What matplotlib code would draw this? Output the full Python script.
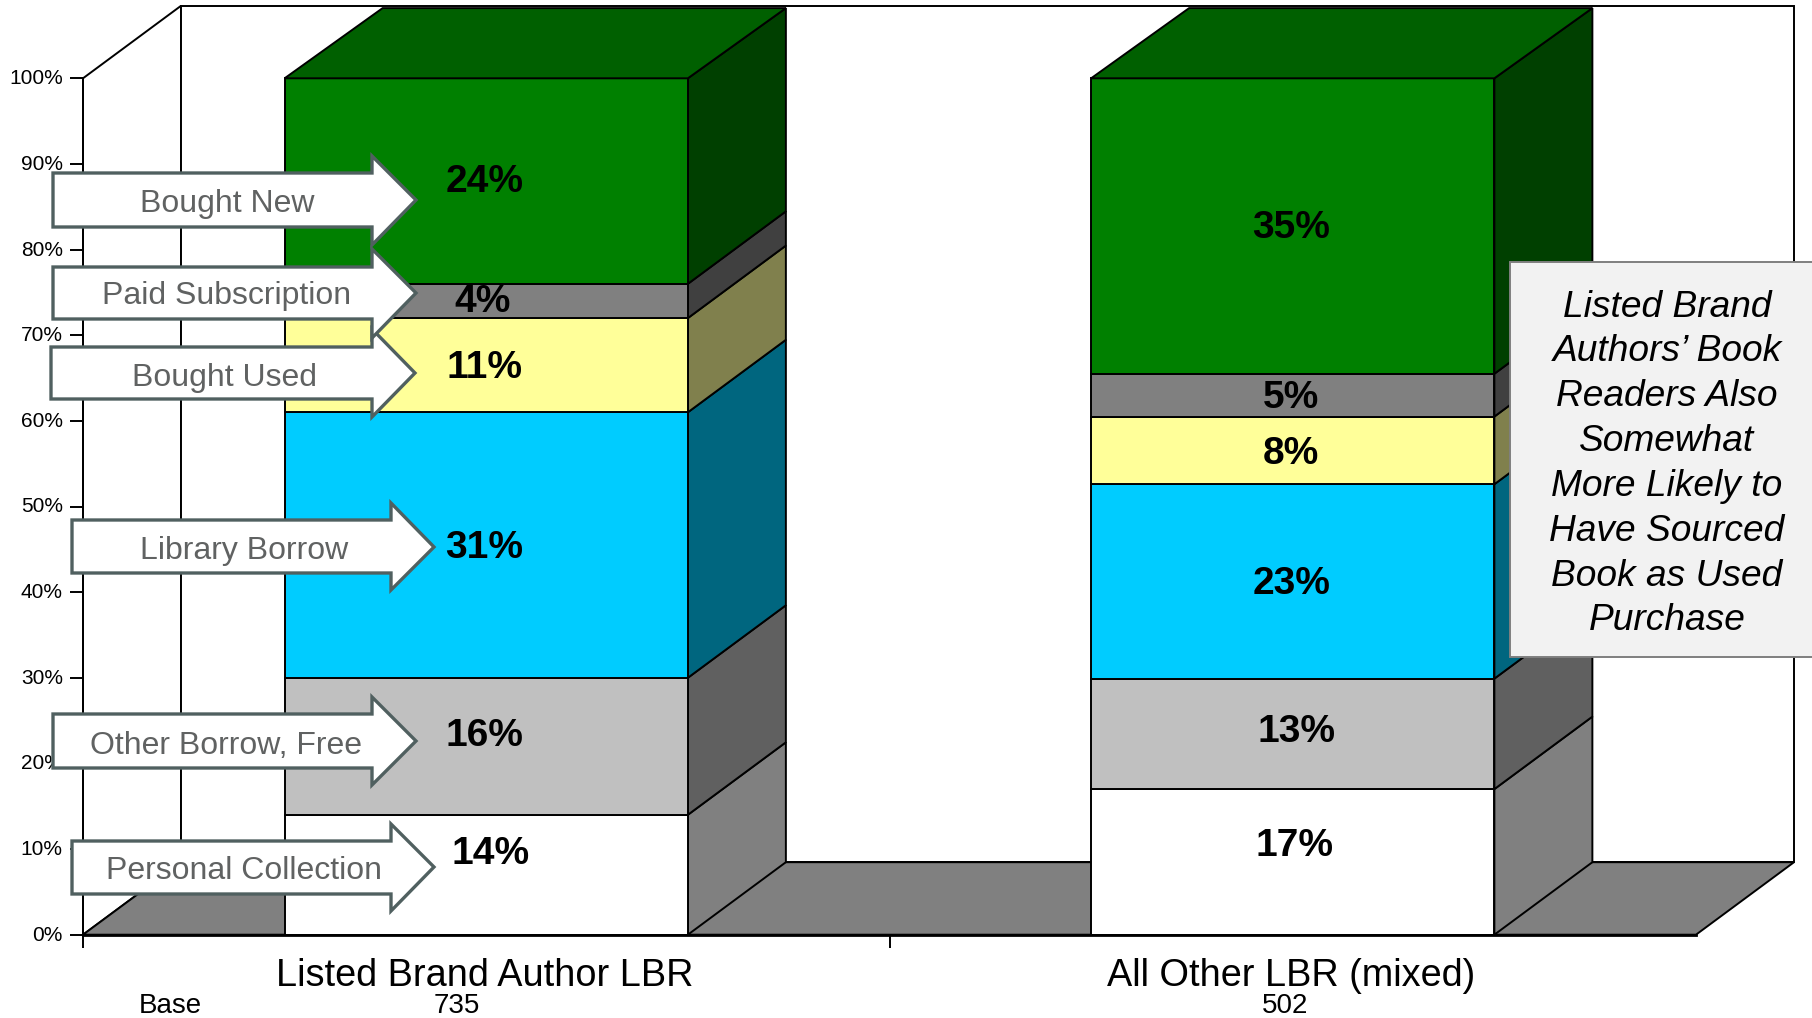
import matplotlib
matplotlib.use("Agg")
import matplotlib.pyplot as plt
from matplotlib.patches import Polygon, Rectangle
from matplotlib.transforms import Affine2D, ScaledTranslation

plt.rcParams['font.family'] = ['Liberation Sans', 'DejaVu Sans']

# ---------- data ----------
categories = ["Listed Brand Author LBR", "All Other LBR (mixed)"]
bases = ["735", "502"]
series_names = ["Personal Collection", "Other Borrow, Free", "Library Borrow",
                "Bought Used", "Paid Subscription", "Bought New"]
listed_values = [14, 16, 31, 11, 4, 24]
other_values = [17, 12.9, 22.7, 7.9, 5.0, 34.5]
listed_labels = ["14%", "16%", "31%", "11%", "4%", "24%"]
other_labels = ["17%", "13%", "23%", "8%", "5%", "35%"]
y_ticks = [0, 10, 20, 30, 40, 50, 60, 70, 80, 90, 100]
y_tick_labels = ["0%", "10%", "20%", "30%", "40%", "50%", "60%", "70%", "80%", "90%", "100%"]
callout_lines = ["Listed Brand", "Authors\u2019 Book", "Readers Also", "Somewhat",
                 "More Likely to", "Have Sourced", "Book as Used", "Purchase"]

# ---------- styles ----------
W, H = 1812, 1018
front_colors = ["#FFFFFF", "#C0C0C0", "#00CCFF", "#FFFF99", "#808080", "#008000"]
side_colors = ["#808080", "#606060", "#00667F", "#80804D", "#404040", "#004000"]
top_color = "#006000"
floor_color = "#808080"
arrow_edge = "#506060"
arrow_text = "#606262"
LW = 1.4

fig = plt.figure(figsize=(W / 100, H / 100), dpi=100, facecolor="white")
ax = fig.add_axes([83 / W, (H - 934.7) / H, 1613 / W, 856.4 / H])
ax.set_xlim(0, 2)
ax.set_ylim(0, 100)
ax.set_facecolor("none")

px = Affine2D().scale(1 / W, -1 / H).translate(0, 1) + fig.transFigure

# depth of the 3-D projection, in data units
DX = 98 / 806.5
DY = 72.5 / 8.564
TOP_INSET = 0.27


def poly(pts, fc, z=2, ec="black", lw=LW):
    ax.add_patch(Polygon(pts, closed=True, facecolor=fc, edgecolor=ec, linewidth=lw,
                         zorder=z, clip_on=False, joinstyle="miter"))


# walls and floor
poly([(0, 0), (0, 100), (DX, 100 + DY), (DX, DY)], "white", z=1)
poly([(DX, DY), (DX, 100 + DY), (2 + DX, 100 + DY), (2 + DX, DY)], "white", z=1)
poly([(0, 0), (2, 0), (2 + DX, DY), (DX, DY)], floor_color, z=1.5)

# bars
BAR_W = 0.5
for center, values in zip([0.5, 1.5], [listed_values, other_values]):
    x0, x1 = center - BAR_W / 2, center + BAR_W / 2
    bottom = 0
    n = len(values)
    for i, v in enumerate(values):
        top = bottom + v
        back_top = top + DY - (TOP_INSET if i == n - 1 else 0)
        poly([(x1, bottom), (x1 + DX, bottom + DY), (x1 + DX, back_top), (x1, top)],
             side_colors[i], z=2)
        poly([(x0, bottom), (x1, bottom), (x1, top), (x0, top)], front_colors[i], z=2.1)
        bottom = top
    poly([(x0, bottom), (x1, bottom), (x1 + DX, bottom + DY - TOP_INSET),
          (x0 + DX, bottom + DY - TOP_INSET)], top_color, z=2.1)

# axes furniture
for s in ["top", "right"]:
    ax.spines[s].set_visible(False)
ax.spines["left"].set_linewidth(LW)
ax.spines["bottom"].set_linewidth(2.0)
ax.spines["left"].set_zorder(3)
ax.spines["bottom"].set_zorder(3)
ax.set_yticks(y_ticks)
ax.set_yticklabels(y_tick_labels, fontsize=15, color="black")
ax.tick_params(axis="y", length=9.5, width=LW, pad=5)
ax.set_xticks([0, 1])
ax.set_xticklabels(["", ""])
ax.tick_params(axis="x", length=9.5, width=LW)
shift_up = ScaledTranslation(0, 1.5 / 100, fig.dpi_scale_trans)
for lab in ax.get_yticklabels():
    lab.set_transform(lab.get_transform() + shift_up)

# value labels
label_pos_listed = [(490.5, 854.5), (484.5, 736.5), (484.5, 548.5), (484.5, 368.5), (483, 301.5), (484.5, 181.5)]
label_pos_other = [(1294, 846.5), (1296, 732.5), (1291.5, 584.5), (1290.5, 454.5), (1290.5, 398.5), (1291.5, 227.5)]
for labs, poss in zip([listed_labels, other_labels], [label_pos_listed, label_pos_other]):
    for t, (x, y) in zip(labs, poss):
        ax.text(x, y, t, transform=px, ha="center", va="center", fontsize=28,
                fontweight="bold", color="black", zorder=4, clip_on=False)


# callout arrows: left, body end, tip, body top, body bottom, head top, head bottom, tip y
def arrow(l, e, t, bt, bb, ht, hb, ty, text, tx, tyy):
    ax.add_patch(Polygon([(l, bt), (e, bt), (e, ht), (t, ty), (e, hb), (e, bb), (l, bb)],
                         closed=True, facecolor="white", edgecolor=arrow_edge, linewidth=2.4,
                         transform=px, zorder=6, clip_on=False, joinstyle="miter"))
    ax.text(tx, tyy, text, transform=px, ha="center", va="center", fontsize=23,
            color=arrow_text, zorder=7, clip_on=False)


arrow(72, 391, 434, 841, 894, 824, 911, 867, series_names[0], 244.5, 871)
arrow(53, 372, 416, 714, 768, 697, 785, 741, series_names[1], 226, 746)
arrow(72, 391, 434, 520, 573, 503, 590, 547, series_names[2], 244.5, 551)
arrow(53, 372, 416, 173, 227, 156, 245, 200, series_names[5], 227, 204)
arrow(51, 372, 415, 347, 399, 329, 417, 373, series_names[3], 225, 378)
arrow(53, 372, 416, 267, 319, 249, 338, 293, series_names[4], 226.5, 296)

# category + base labels
for x, t in zip([485, 1291.5], categories):
    ax.text(x, 976.5, t, transform=px, ha="center", va="center", fontsize=27.3,
            color="black", zorder=4, clip_on=False)
ax.text(170, 1006, "Base", transform=px, ha="center", va="center", fontsize=20,
        color="black", zorder=4, clip_on=False)
for x, t in zip([456.5, 1285.5], bases):
    ax.text(x, 1006, t, transform=px, ha="center", va="center", fontsize=20,
            color="black", zorder=4, clip_on=False)

# side note
ax.add_patch(Rectangle((1510, 262), 320, 395, transform=px, facecolor="#F2F2F2",
                       edgecolor="#7F7F7F", linewidth=1.4, zorder=8, clip_on=False))
ax.text(1667, 464, "\n".join(callout_lines), transform=px, ha="center", va="center",
        fontsize=26.7, fontstyle="italic", color="black", linespacing=1.365,
        zorder=9, clip_on=False)

fig.savefig("out.png", dpi=100, facecolor="white")
